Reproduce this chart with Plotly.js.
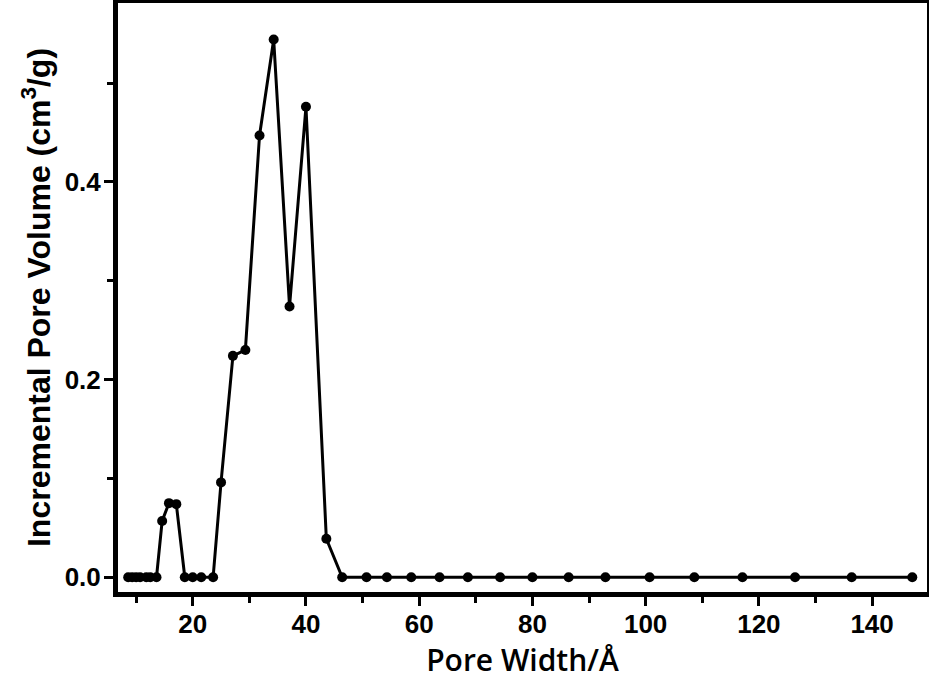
<!DOCTYPE html>
<html>
<head>
<meta charset="utf-8">
<script src="https://cdn.plot.ly/plotly-3.0.1.min.js"></script>
<style>
  html, body { margin: 0; padding: 0; background: #fff; }
  #chart { width: 929px; height: 684px; }
</style>
</head>
<body>
<div id="chart"></div>
<script>
// Pore width (Å)
const poreWidth = [8.6, 9.3, 10.0, 10.7, 11.8, 12.5, 13.6, 14.6, 15.8, 17.1,
  18.6, 20.0, 21.5, 23.6, 25.0, 27.1, 29.3, 31.8, 34.3, 37.1,
  40.0, 43.6, 46.4, 50.7, 54.3, 58.6, 63.6, 68.6, 74.3, 80.0,
  86.4, 92.9, 100.7, 108.6, 117.1, 126.4, 136.4, 147.1];
// Incremental pore volume (cm3/g)
const poreVolume = [0, 0, 0, 0, 0, 0, 0, 0.057, 0.075, 0.074,
  0, 0, 0, 0, 0.096, 0.224, 0.230, 0.447, 0.544, 0.274,
  0.476, 0.039, 0, 0, 0, 0, 0, 0, 0, 0,
  0, 0, 0, 0, 0, 0, 0, 0];
const xTicks = [20, 40, 60, 80, 100, 120, 140];
const xMinor = [10, 30, 50, 70, 90, 110, 130];
const yTicks = [0.0, 0.2, 0.4];
const yTickText = ['0.0', '0.2', '0.4'];
const yMinor = [0.1, 0.3, 0.5];

const trace = {
  x: poreWidth, y: poreVolume,
  type: 'scatter', mode: 'lines+markers',
  line: { color: '#000', width: 3 },
  marker: { color: '#000', size: 10 },
  showlegend: false, hoverinfo: 'skip'
};

const tickFont = { family: 'Liberation Sans, Arial, sans-serif', size: 26, color: '#000', weight: 'bold' };

const layout = {
  width: 929, height: 684,
  paper_bgcolor: '#fff', plot_bgcolor: '#fff',
  margin: { l: 118, r: 2, t: 3, b: 92, pad: 0 },
  xaxis: {
    range: [6.8, 149.7],
    tickmode: 'array', tickvals: xTicks, ticktext: xTicks.map(String),
    ticks: 'outside', ticklen: 9, tickwidth: 3, tickcolor: '#000',
    ticklabelstandoff: -4,
    minor: { tickmode: 'array', tickvals: xMinor, ticks: 'outside', ticklen: 6, tickwidth: 3, tickcolor: '#000' },
    showline: true, linecolor: '#000', linewidth: 5, mirror: true,
    showgrid: false, zeroline: false,
    tickfont: tickFont,
    title: { text: 'Pore Width/Å', font: { family: 'Open Sans, sans-serif', size: 30, color: '#000', weight: 600 }, standoff: 4 }
  },
  yaxis: {
    range: [-0.0149, 0.581],
    tickmode: 'array', tickvals: yTicks, ticktext: yTickText,
    ticks: 'outside', ticklen: 9, tickwidth: 3, tickcolor: '#000',
    ticklabelstandoff: -2,
    minor: { tickmode: 'array', tickvals: yMinor, ticks: 'outside', ticklen: 6, tickwidth: 3, tickcolor: '#000' },
    showline: true, linecolor: '#000', linewidth: 5, mirror: true,
    showgrid: false, zeroline: false,
    tickfont: tickFont,
    title: { text: 'Incremental Pore Volume (cm<sup>3</sup>/g)', font: { family: 'Liberation Sans, Arial, sans-serif', size: 32, color: '#000', weight: 'bold' }, standoff: 6 }
  }
};

Plotly.newPlot('chart', [trace], layout, { displayModeBar: false, staticPlot: true });
</script>
</body>
</html>
